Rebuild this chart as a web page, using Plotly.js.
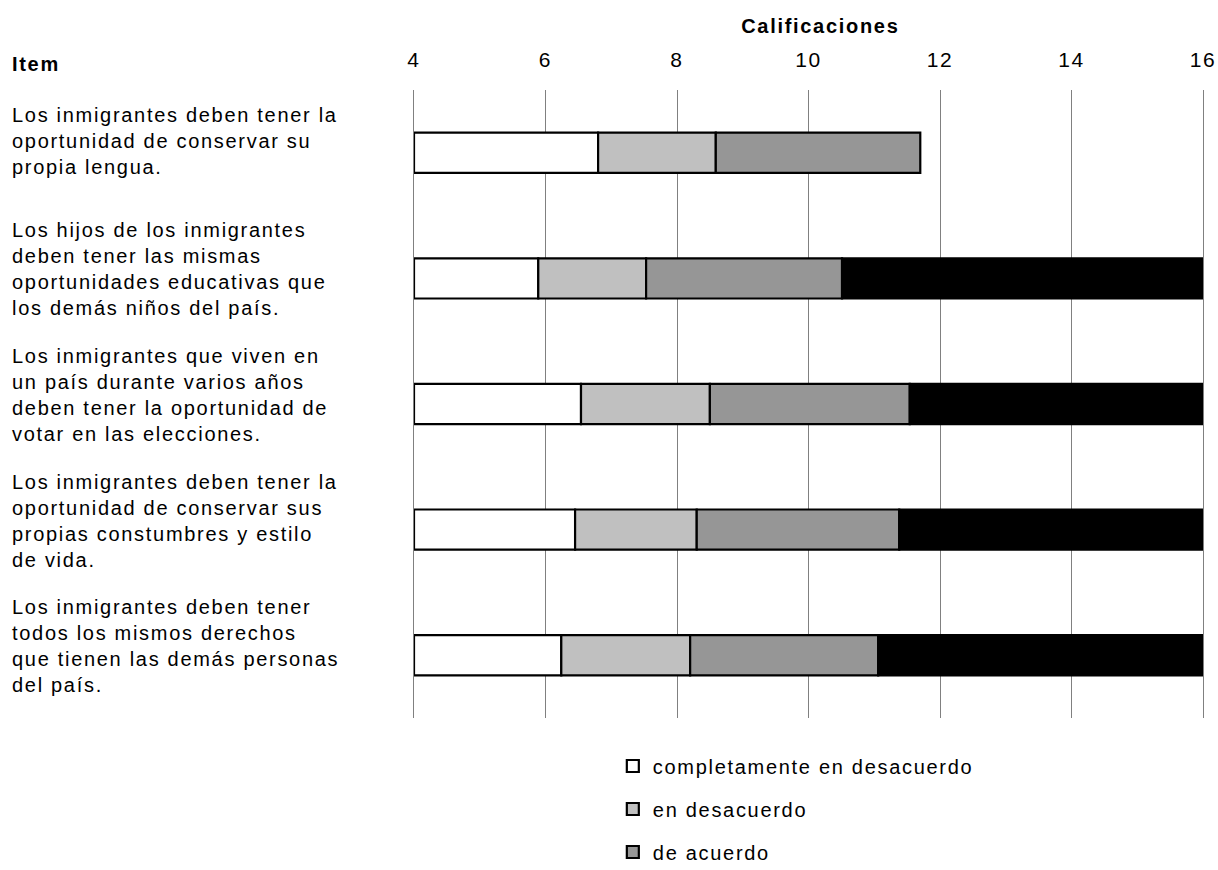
<!DOCTYPE html>
<html>
<head>
<meta charset="utf-8">
<script src="https://cdn.plot.ly/plotly-3.0.1.min.js"></script>
<style>
  html, body { margin: 0; padding: 0; background: #fff; }
  #chart { width: 1218px; height: 870px; }
  text { letter-spacing: 1.7px; }
</style>
</head>
<body>
<div id="chart"></div>
<script>
// ---- data ----
const items = [
  "Los inmigrantes deben tener la<br>oportunidad de conservar su<br>propia lengua.",
  "Los hijos de los inmigrantes<br>deben tener las mismas<br>oportunidades educativas que<br>los demás niños del país.",
  "Los inmigrantes que viven en<br>un país durante varios años<br>deben tener la oportunidad de<br>votar en las elecciones.",
  "Los inmigrantes deben tener la<br>oportunidad de conservar sus<br>propias constumbres y estilo<br>de vida.",
  "Los inmigrantes deben tener<br>todos los mismos derechos<br>que tienen las demás personas<br>del país."
];
const seriesNames = ["completamente en desacuerdo", "en desacuerdo", "de acuerdo", "completamente de acuerdo"];
const completamenteDesacuerdo = [6.80, 5.89, 6.54, 6.45, 6.24];
const enDesacuerdo            = [1.79, 1.64, 1.96, 1.85, 1.96];
const deAcuerdo               = [3.11, 2.98, 3.04, 3.08, 2.86];
const completamenteAcuerdo    = [null, 9.40, 8.60, 8.90, 9.10];
const xTicks = [4, 6, 8, 10, 12, 14, 16];
const axisTitle = "Calificaciones";
const itemHeader = "Item";

// ---- styles ----
const FONT = "Liberation Sans, Arial, sans-serif";
const FS = 20;
const colors = ["#FFFFFF", "#C0C0C0", "#969696", "#000000"];
const seriesValues = [completamenteDesacuerdo, enDesacuerdo, deAcuerdo, completamenteAcuerdo];
const axisMin = xTicks[0];

// stacked segments drawn from the axis minimum (as the source chart does)
const running = items.map(() => 0);
const traces = seriesValues.map((vals, i) => {
  const base = [], len = [];
  vals.forEach((v, k) => {
    if (v === null) { base.push(null); len.push(null); return; }
    const start = running[k];
    const end = start + v;
    running[k] = end;
    const b = Math.max(start, axisMin);
    base.push(b);
    len.push(end - b);
  });
  return {
    type: "bar",
    orientation: "h",
    name: seriesNames[i],
    y: items,
    x: len,
    base: base,
    marker: { color: colors[i], line: { color: "#000", width: 2.2 } },
    legendgroup: "g" + i,
    showlegend: i < 3,
    hoverinfo: "name"
  };
});

const annotations = items.map((t, k) => ({
  xref: "paper", yref: "y",
  x: -0.5120, y: t,
  xanchor: "left", yanchor: "middle", align: "left",
  yshift: t.split("<br>").length < 4 ? 12 : 9,
  text: t, showarrow: false,
  font: { family: FONT, size: FS, color: "#000" }
}));
annotations.push({
  xref: "paper", yref: "paper",
  x: -0.5120, y: 1.0414,
  xanchor: "left", yanchor: "middle",
  text: "<b>" + itemHeader + "</b>", showarrow: false,
  font: { family: FONT, size: FS, color: "#000" }
});

const layout = {
  width: 1218, height: 870,
  paper_bgcolor: "#fff", plot_bgcolor: "#fff",
  margin: { l: 414, r: 15, t: 90, b: 152, autoexpand: false },
  barmode: "overlay",
  bargap: 0.68,
  font: { family: FONT, size: FS, color: "#000" },
  title: {
    text: "<b>" + axisTitle + "</b>",
    xref: "paper", x: 0.515, xanchor: "center",
    yref: "container", y: 0.970, yanchor: "middle",
    font: { family: FONT, size: FS, color: "#000" }
  },
  xaxis: {
    side: "top",
    range: [xTicks[0], xTicks[xTicks.length - 1]],
    tickvals: xTicks,
    ticktext: xTicks.map(String),
    showgrid: true, gridcolor: "#808080", gridwidth: 1,
    zeroline: false, showline: false,
    ticks: "", ticklabelstandoff: 18,
    tickfont: { family: FONT, size: 21, color: "#000" },
    fixedrange: true
  },
  yaxis: {
    type: "category",
    autorange: "reversed",
    showticklabels: false,
    showgrid: false, zeroline: false,
    showline: true, mirror: true, linecolor: "#808080", linewidth: 1,
    ticks: "",
    fixedrange: true
  },
  legend: {
    orientation: "v",
    x: 0.252, xanchor: "left",
    y: -0.0454, yanchor: "top",
    traceorder: "grouped",
    tracegroupgap: 14,
    font: { family: FONT, size: FS, color: "#000" },
    bgcolor: "rgba(0,0,0,0)"
  },
  annotations: annotations,
  showlegend: true
};

Plotly.newPlot("chart", traces, layout, { displayModeBar: false, staticPlot: true });
</script>
</body>
</html>
